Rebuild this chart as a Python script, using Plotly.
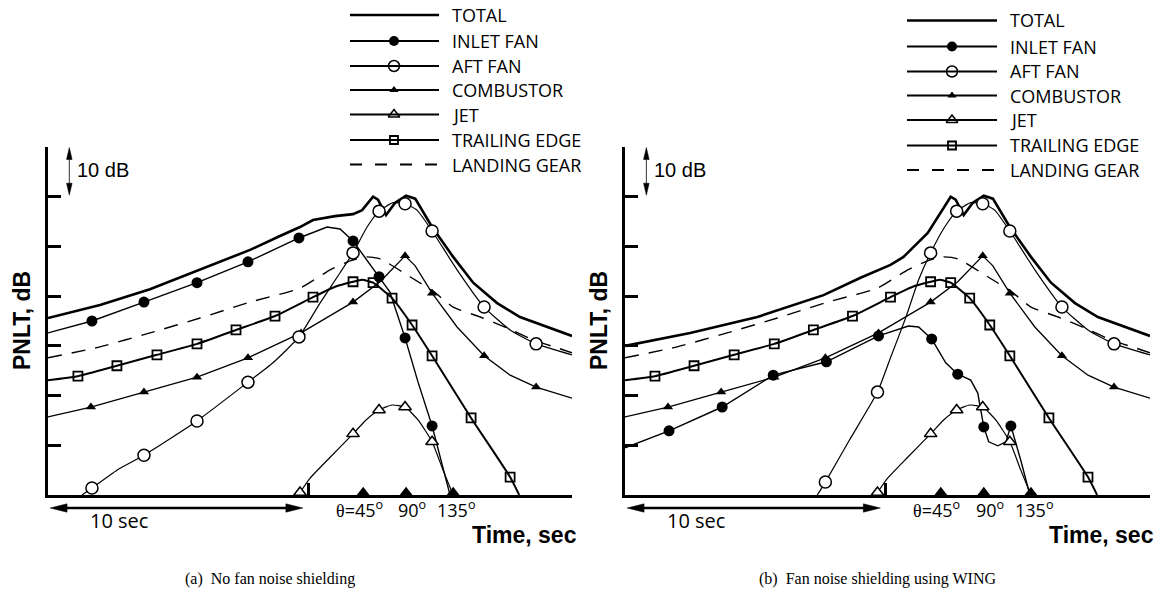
import plotly.graph_objects as go

W, H = 1165, 594

# ---------------- DATA (time in s, PNLT in dB above the axis floor) ----------------
T_END = 20.15
Y_TICKS = [0, 10, 20, 30, 40, 50, 60, 70]
X_TICKS = [10, T_END]

theta_t = [12.12, 13.77, 15.58]
theta_labels = ["θ=45", "90", "135"]

legend_names = ["TOTAL", "INLET FAN", "AFT FAN", "COMBUSTOR", "JET", "TRAILING EDGE", "LANDING GEAR"]

# Panel (a) - no fan noise shielding
total_a_t = [0, 2.0, 3.92, 5.85, 7.77, 8.92, 9.69, 10.19, 11.04, 11.73, 12.08, 12.5, 12.69, 13.0,
             13.35, 13.77, 14.12, 14.77, 15.58, 16.35, 17.27, 18.15, 19.19, 20.15]
total_a_db = [35.6, 38.2, 41.4, 45.3, 49.3, 52.1, 53.9, 55.3, 56.1, 56.5, 57.3, 60.0, 59.4, 56.3,
              58.8, 60.2, 59.6, 53.9, 47.9, 42.7, 38.6, 35.8, 33.8, 32.0]

inlet_a_t = [0, 1.69, 3.69, 5.73, 7.69, 9.65, 10.73, 11.23, 11.73, 12.23, 12.73, 13.15, 13.73,
             14.23, 14.77, 15.12, 15.46]
inlet_a_db = [32.6, 35.0, 38.8, 42.7, 46.9, 51.7, 53.9, 53.5, 51.1, 47.5, 43.9, 40.8, 31.6,
              22.7, 13.9, 7.0, 0]
inlet_a_marks = [1, 2, 3, 4, 5, 8, 10, 12, 14]

aft_a_t = [1.31, 1.69, 2.65, 3.69, 5.73, 7.69, 8.65, 9.65, 10.46, 11.23, 11.73, 12.27, 12.73,
           13.27, 13.73, 14.19, 14.77, 15.73, 16.77, 17.77, 18.77, 20.15]
aft_a_db = [0, 1.4, 5.0, 8.0, 14.9, 22.7, 26.6, 31.8, 38.6, 44.7, 48.7, 53.9, 57.1,
            58.8, 58.6, 57.3, 53.1, 45.3, 37.8, 33.2, 30.4, 28.2]
aft_a_marks = [1, 3, 4, 5, 7, 10, 12, 14, 16, 18, 20]

# Panel (b) - fan noise shielding using WING
total_b_t = [0, 2.5, 5.08, 7.62, 9.04, 10.19, 10.69, 11.62, 12.5, 12.69, 13.0, 13.35, 13.77,
             14.12, 14.77, 15.58, 16.35, 17.27, 18.15, 19.19, 20.15]
total_b_db = [30.0, 32.6, 35.8, 40.2, 43.7, 46.3, 47.9, 52.7, 60.0, 59.4, 56.3, 58.8, 60.2,
              59.6, 53.9, 47.9, 42.7, 38.6, 35.8, 33.8, 32.0]

inlet_b_t = [0, 1.69, 3.73, 5.69, 7.73, 9.73, 10.88, 11.27, 11.77, 12.31, 12.77, 13.27, 13.54,
             13.77, 13.96, 14.31, 14.62, 14.81, 15.19, 15.54]
inlet_b_db = [9.5, 12.9, 17.7, 24.1, 26.8, 32.0, 34.0, 33.8, 31.4, 26.6, 24.3, 23.1, 20.5,
              13.7, 10.7, 9.9, 10.7, 13.9, 7.0, 0]
inlet_b_marks = [1, 2, 3, 4, 5, 8, 10, 13, 17]

aft_b_t = [7.38, 7.69, 8.62, 9.69, 10.19, 10.77, 11.27, 11.73, 12.27, 12.73, 13.27, 13.73,
           14.19, 14.77, 15.73, 16.77, 17.77, 18.77, 20.15]
aft_b_db = [0, 2.6, 11.1, 20.7, 27.6, 35.6, 43.3, 48.7, 53.9, 57.1, 58.8, 58.6,
            57.3, 53.1, 45.3, 37.8, 33.2, 30.4, 28.2]
aft_b_marks = [1, 3, 7, 9, 11, 13, 15, 17]

# Sources common to both panels
comb_t = [0, 1.65, 3.69, 5.73, 7.69, 9.73, 11.73, 12.77, 13.73, 14.12, 14.77, 15.73, 16.77,
          17.77, 18.77, 20.15]
comb_db = [15.7, 17.7, 20.7, 23.7, 27.6, 32.6, 38.8, 42.9, 48.1, 46.1, 40.6, 33.8, 28.0,
           24.1, 21.7, 19.5]
comb_marks = [1, 2, 3, 4, 5, 6, 8, 10, 12, 14]

trail_t = [0, 1.15, 2.65, 4.19, 5.73, 7.23, 8.73, 10.19, 11.04, 11.73, 12.08, 12.5, 12.88,
           13.23, 14.0, 14.77, 16.27, 17.77, 18.12]
trail_db = [23.1, 23.9, 26.0, 28.2, 30.4, 33.2, 36.0, 39.8, 41.9, 42.9, 43.3, 42.7, 41.2,
            39.6, 34.2, 28.0, 15.5, 3.6, 0]
trail_marks = [1, 2, 3, 4, 5, 6, 7, 9, 11, 13, 14, 15, 16, 17]

jet_t = [9.69, 10.08, 10.85, 11.73, 12.23, 12.73, 13.23, 13.73, 14.23, 14.77, 15.19, 15.58]
jet_db = [0.5, 3.4, 7.6, 12.3, 15.1, 17.1, 18.1, 17.7, 15.1, 10.7, 5.0, 0]
jet_marks = [0, 3, 5, 7, 9]

gear_t = [0, 2.0, 3.92, 5.85, 7.77, 9.69, 10.85, 11.62, 12.19, 12.77, 13.92, 14.81, 15.58,
          16.62, 17.65, 18.65, 19.58, 20.15]
gear_db = [27.6, 29.8, 32.6, 35.6, 38.8, 41.6, 45.3, 47.1, 47.9, 47.5, 43.9, 41.0, 37.8,
           35.8, 33.6, 31.2, 29.6, 28.6]

# ---------------- STYLES ----------------
STY = {
    "TOTAL": dict(width=2.6, dash="solid", shape="linear", sym=None),
    "INLET FAN": dict(width=1.4, dash="solid", shape="linear",
                      sym=dict(symbol="circle", size=11, color="black")),
    "AFT FAN": dict(width=1.2, dash="solid", shape="spline",
                    sym=dict(symbol="circle", size=12, color="white", line=dict(color="black", width=1.5))),
    "COMBUSTOR": dict(width=1.3, dash="solid", shape="linear",
                      sym=dict(symbol="triangle-up", size=9, color="black")),
    "JET": dict(width=1.2, dash="solid", shape="spline",
                sym=dict(symbol="triangle-up", size=11, color="white", line=dict(color="black", width=1.5))),
    "TRAILING EDGE": dict(width=2.0, dash="solid", shape="spline",
                          sym=dict(symbol="square-open", size=9, color="black", line=dict(color="black", width=1.8))),
    "LANDING GEAR": dict(width=1.4, dash="14px,10px", shape="spline", sym=None),
}

panels = [
    dict(xa="x", ya="y", series={
        "LANDING GEAR": (gear_t, gear_db, []),
        "JET": (jet_t, jet_db, jet_marks),
        "COMBUSTOR": (comb_t, comb_db, comb_marks),
        "TRAILING EDGE": (trail_t, trail_db, trail_marks),
        "AFT FAN": (aft_a_t, aft_a_db, aft_a_marks),
        "INLET FAN": (inlet_a_t, inlet_a_db, inlet_a_marks),
        "TOTAL": (total_a_t, total_a_db, []),
    }),
    dict(xa="x2", ya="y2", series={
        "LANDING GEAR": (gear_t, gear_db, []),
        "JET": (jet_t, jet_db, jet_marks),
        "COMBUSTOR": (comb_t, comb_db, comb_marks),
        "TRAILING EDGE": (trail_t, trail_db, trail_marks),
        "AFT FAN": (aft_b_t, aft_b_db, aft_b_marks),
        "INLET FAN": (inlet_b_t, inlet_b_db, inlet_b_marks),
        "TOTAL": (total_b_t, total_b_db, []),
    }),
]

fig = go.Figure()

for p in panels:
    # lines first
    for name, (t, db, marks) in p["series"].items():
        s = STY[name]
        fig.add_trace(go.Scatter(x=t, y=db, mode="lines", xaxis=p["xa"], yaxis=p["ya"],
                                 line=dict(color="black", width=s["width"], dash=s["dash"],
                                           shape=s["shape"], smoothing=0.5),
                                 showlegend=False, hoverinfo="skip"))
    for name, (t, db, marks) in p["series"].items():
        s = STY[name]
        if s["sym"] and marks:
            fig.add_trace(go.Scatter(x=[t[i] for i in marks], y=[db[i] for i in marks], mode="markers",
                                     xaxis=p["xa"], yaxis=p["ya"], marker=s["sym"], cliponaxis=False,
                                     showlegend=False, hoverinfo="skip"))
    # theta markers on the time axis
    fig.add_trace(go.Scatter(x=theta_t, y=[0.55] * len(theta_t), mode="markers", xaxis=p["xa"], yaxis=p["ya"],
                             marker=dict(symbol="triangle-up", size=11, color="black"), cliponaxis=False,
                             showlegend=False, hoverinfo="skip"))

axis_common = dict(showline=True, linewidth=3, linecolor="black", ticks="inside", tickcolor="black",
                   showticklabels=False, showgrid=False, zeroline=False, fixedrange=True)
ydom = [1 - 495 / H, 1 - 147 / H]
fig.update_layout(
    width=W, height=H, margin=dict(l=0, r=0, t=0, b=0),
    paper_bgcolor="white", plot_bgcolor="rgba(0,0,0,0)", showlegend=False,
    xaxis=dict(domain=[48 / W, 572 / W], range=[0, T_END], tickvals=X_TICKS, ticklen=12, tickwidth=2.5,
               anchor="y", **axis_common),
    yaxis=dict(domain=ydom, range=[0, 70], tickvals=Y_TICKS, ticklen=13, tickwidth=2.5, anchor="x", **axis_common),
    xaxis2=dict(domain=[625 / W, 1150 / W], range=[0, T_END], tickvals=X_TICKS, ticklen=12, tickwidth=2.5,
                anchor="y2", **axis_common),
    yaxis2=dict(domain=ydom, range=[0, 70], tickvals=Y_TICKS, ticklen=13, tickwidth=2.5, anchor="x2", **axis_common),
    xaxis3=dict(domain=[0, 1], range=[0, W], visible=False, anchor="y3", fixedrange=True),
    yaxis3=dict(domain=[0, 1], range=[H, 0], visible=False, anchor="x3", fixedrange=True),
)

shapes = []
ann = []
MYR = "Open Sans"
HELV = "Liberation Sans"

# ---------------- legends ----------------
legend_layout = [dict(x0=350, x1=439, xm=394, xt=450, y0=15),
                 dict(x0=907, x1=997, xm=952, xt=1008, y0=20.5)]
row_off = [0, 26, 51, 75, 99.5, 125, 149.5]
for L in legend_layout:
    for k, name in enumerate(legend_names):
        yy = L["y0"] + row_off[k]
        s = STY[name]
        lw = 2.6 if name == "TOTAL" else 2.0
        dash = "12px,13px" if name == "LANDING GEAR" else "solid"
        shapes.append(dict(type="line", xref="paper", yref="paper", x0=L["x0"] / W, x1=L["x1"] / W,
                           y0=1 - yy / H, y1=1 - yy / H, line=dict(color="black", width=lw, dash=dash)))
        if s["sym"]:
            m = dict(s["sym"])
            m["size"] = m["size"] - 1
            fig.add_trace(go.Scatter(x=[L["xm"]], y=[yy], mode="markers", xaxis="x3", yaxis="y3",
                                     marker=m, cliponaxis=False, showlegend=False, hoverinfo="skip"))
        ann.append(dict(x=L["xt"] / W, y=1 - yy / H, xref="paper", yref="paper", text=name,
                        showarrow=False, xanchor="left", yanchor="middle",
                        font=dict(family=MYR, size=18, color="black")))

# ---------------- panel annotations ----------------
def head(xref, yref, x, y, path):
    return dict(type="path", xref=xref, yref=yref, xsizemode="pixel", ysizemode="pixel",
                xanchor=x, yanchor=y, path=path, fillcolor="black", line=dict(color="black", width=0.5))

captions = ["(a)  No fan noise shielding", "(b)  Fan noise shielding using WING"]
cap_x = [183, 757]
for i, p in enumerate(panels):
    xa, ya = p["xa"], p["ya"]
    off = 577 * i
    # 10 dB scale arrow
    shapes.append(dict(type="line", xref=xa, yref=ya, x0=0.82, x1=0.82, y0=61.5, y1=68.8,
                       line=dict(color="#333", width=1)))
    shapes.append(head(xa, ya, 0.82, 69.9, "M0,0 L-2.8,-12 L2.8,-12 Z"))
    shapes.append(head(xa, ya, 0.82, 60.3, "M0,0 L-2.8,12 L2.8,12 Z"))
    ann.append(dict(x=1.02, y=65.3, xref=xa, yref=ya, text="10 dB", showarrow=False, xanchor="left",
                    yanchor="middle", font=dict(family=HELV, size=20, color="black")))
    # 10 sec arrow
    yar = 1 - 508 / H
    shapes.append(dict(type="line", xref=xa, yref="paper", x0=0.5, x1=9.3, y0=yar, y1=yar,
                       line=dict(color="black", width=2.3)))
    shapes.append(head(xa, "paper", 0.08, yar, "M0,0 L17,4.2 L17,-4.2 Z"))
    shapes.append(head(xa, "paper", 9.8, yar, "M0,0 L-17,4.2 L-17,-4.2 Z"))
    ann.append(dict(x=(88 + off) / W, y=1 - 520 / H, xref="paper", yref="paper", text="10 sec",
                    showarrow=False, xanchor="left", yanchor="middle",
                    font=dict(family=MYR, size=20, color="black")))
    # theta labels
    shifts = [-4, 6, 3]
    for tt, lab, sh in zip(theta_t, theta_labels, shifts):
        txt = lab.replace("θ", "<span style='font-family:Liberation Serif'>θ</span>") + "<sup>o</sup>"
        ann.append(dict(x=tt, y=1 - 509 / H, xref=xa, yref="paper", text=txt, showarrow=False,
                        xanchor="center", yanchor="middle", xshift=sh,
                        font=dict(family=MYR, size=18, color="black")))
    # axis titles
    ann.append(dict(x=(579 + off) / W, y=1 - 535 / H, xref="paper", yref="paper", text="<b>Time, sec</b>",
                    showarrow=False, xanchor="right", yanchor="middle",
                    font=dict(family=HELV, size=23, color="black")))
    ann.append(dict(x=(22 + off) / W, y=1 - 321 / H, xref="paper", yref="paper", text="<b>PNLT, dB</b>",
                    showarrow=False, xanchor="center", yanchor="middle", textangle=-90,
                    font=dict(family=HELV, size=23, color="black")))
    # caption
    ann.append(dict(x=cap_x[i] / W, y=1 - 579 / H, xref="paper", yref="paper", text=captions[i],
                    showarrow=False, xanchor="left", yanchor="middle",
                    font=dict(family="Liberation Serif", size=16, color="black")))

fig.update_layout(shapes=shapes, annotations=ann)
fig.write_html("out.html", config={"displayModeBar": False},
               post_script="document.body.style.margin='0';")
